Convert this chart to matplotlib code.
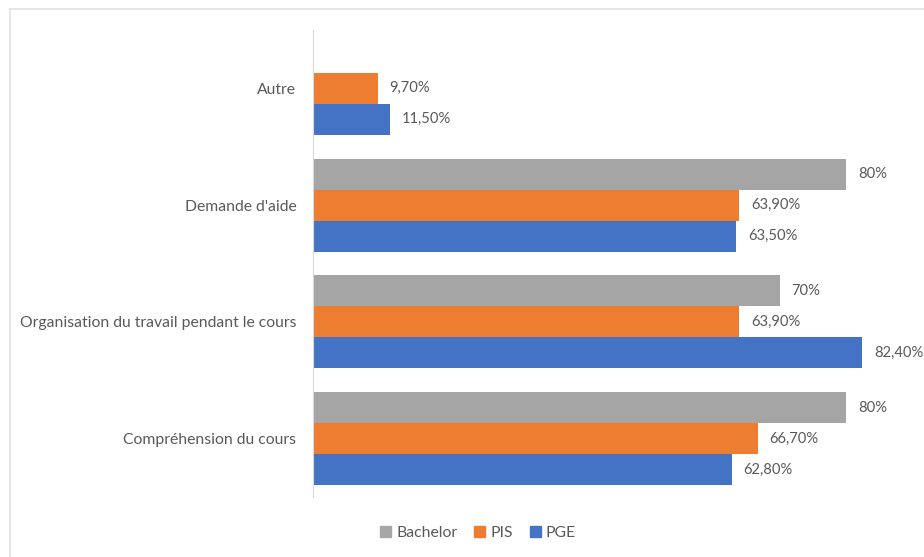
import matplotlib.pyplot as plt
import numpy as np
from matplotlib.lines import Line2D

plt.rcParams['font.family'] = ['Lato', 'DejaVu Sans']

categories = ["Compréhension du cours",
              "Organisation du travail pendant le cours",
              "Demande d'aide",
              "Autre"]
bachelor = [80.0, 70.0, 80.0, np.nan]
pis = [66.7, 63.9, 63.9, 9.7]
pge = [62.8, 82.4, 63.5, 11.5]
bachelor_labels = ["80%", "70%", "80%", ""]
pis_labels = ["66,70%", "63,90%", "63,90%", "9,70%"]
pge_labels = ["62,80%", "82,40%", "63,50%", "11,50%"]

GRAY, ORANGE, BLUE = '#a5a5a5', '#ed7d31', '#4472c4'
TXT = '#595959'

fig = plt.figure(figsize=(9.24, 5.57), dpi=100)
ax = fig.add_axes([313 / 924, 1 - 497 / 557, (913 - 313) / 924, (497 - 30) / 557])

y = np.arange(len(categories))
h = 0.265
series = [(pge, pge_labels, BLUE, -h),
          (pis, pis_labels, ORANGE, 0),
          (bachelor, bachelor_labels, GRAY, h)]
for vals, labs, col, off in series:
    ax.barh(y + off, vals, h, color=col)
    for yi, v, lab in zip(y, vals, labs):
        if lab:
            ax.text(v + 1.8, yi + off, lab, va='center', ha='left',
                    fontsize=10.6, color=TXT)

ax.set_xlim(0, 90)
ax.set_ylim(-0.5, 3.5)
ax.set_yticks(y)
ax.set_yticklabels(categories, fontsize=11.3, color=TXT)
ax.tick_params(axis='y', length=0, pad=12)
ax.set_xticks([])
for s in ['top', 'right', 'bottom']:
    ax.spines[s].set_visible(False)
ax.spines['left'].set_color('#d9d9d9')

# outer chart frame
fig.add_artist(Line2D([10 / 924, 10 / 924], [0, 1 - 9 / 557], color='#e0e0e0', lw=1.2))
fig.add_artist(Line2D([10 / 924, 1], [1 - 9 / 557, 1 - 9 / 557], color='#e0e0e0', lw=1.2))

handles = [plt.Rectangle((0, 0), 1, 1, color=c) for c in (GRAY, ORANGE, BLUE)]
fig.legend(handles, ["Bachelor", "PIS", "PGE"], loc='center',
           bbox_to_anchor=(478 / 924, 1 - 533 / 557), ncol=3, frameon=False,
           fontsize=11.3, labelcolor=TXT, handlelength=0.7, handleheight=0.7,
           handletextpad=0.3, columnspacing=1.1)

fig.savefig('out.png', dpi=100)
